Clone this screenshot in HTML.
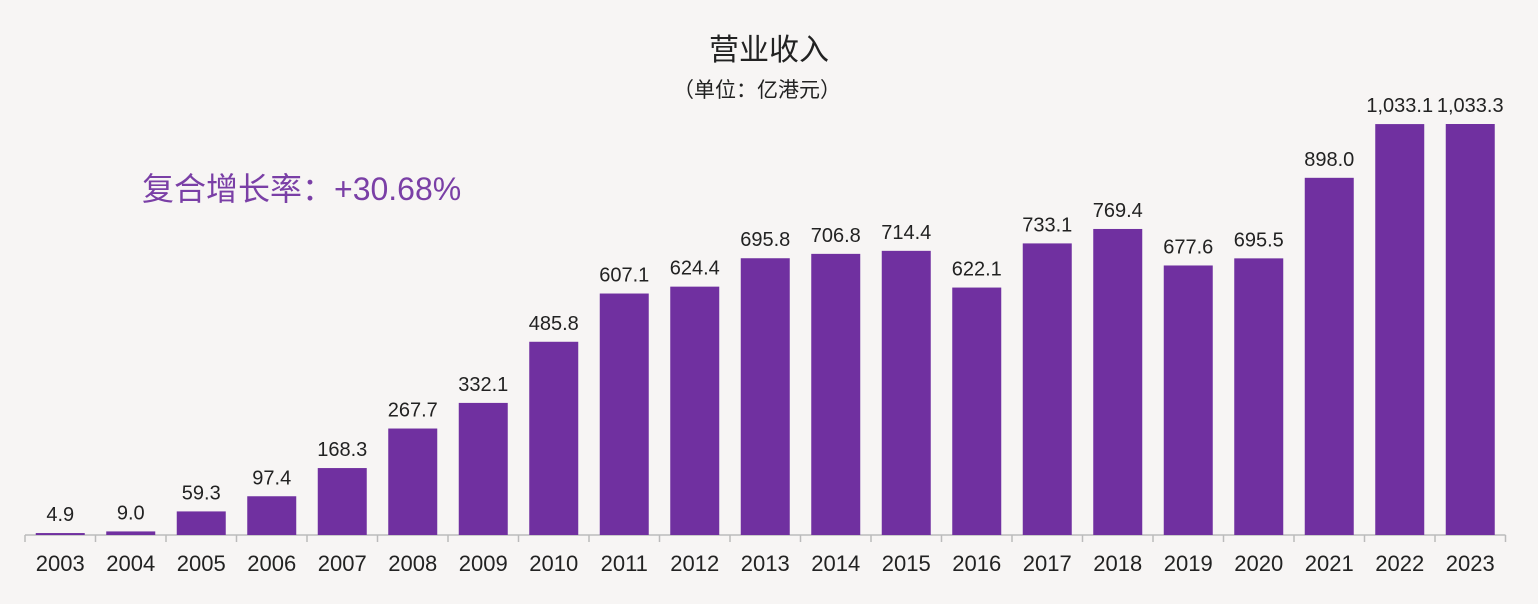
<!DOCTYPE html>
<html><head><meta charset="utf-8"><style>
body{margin:0;background:#f7f5f4;}
svg{display:block;font-family:"Liberation Sans","Noto Sans CJK SC",sans-serif;}
</style></head><body>
<svg width="1538" height="604">
<rect width="1538" height="604" fill="#f7f5f4"/>
<text x="769" y="60" text-anchor="middle" font-size="30" fill="#222">营业收入</text>
<text x="757" y="97" text-anchor="middle" font-size="21" fill="#222">（单位：亿港元）</text>
<text x="142" y="200" font-size="32" fill="#7a3fa6">复合增长率：+30.68%</text>
<g id="plot"></g>
</svg>
<script>
const categories=["2003","2004","2005","2006","2007","2008","2009","2010","2011","2012","2013","2014","2015","2016","2017","2018","2019","2020","2021","2022","2023"];
const revenue=[4.9,9.0,59.3,97.4,168.3,267.7,332.1,485.8,607.1,624.4,695.8,706.8,714.4,622.1,733.1,769.4,677.6,695.5,898.0,1033.1,1033.3];
const valueLabels=["4.9","9.0","59.3","97.4","168.3","267.7","332.1","485.8","607.1","624.4","695.8","706.8","714.4","622.1","733.1","769.4","677.6","695.5","898.0","1,033.1","1,033.3"];
const NS="http://www.w3.org/2000/svg";
const g=document.getElementById('plot');
const x0=25,step=70.5,base=535,k=(535-124)/1033.3,bw=49;
function xs(i){return x0+step*i;}
function ys(v){return base-v*k;}
function mk(t,a){const e=document.createElementNS(NS,t);for(const n in a)e.setAttribute(n,a[n]);g.appendChild(e);return e;}
const ax=mk('line',{x1:x0,x2:xs(categories.length),y1:base,y2:base,stroke:'#bbb','stroke-width':1.5});


for(let i=0;i<=categories.length;i++){
 const t=mk('line',{x1:xs(i),x2:xs(i),y1:base,y2:base+7,stroke:'#bbb','stroke-width':1.5});
 
 
}
categories.forEach((c,i)=>{
 const cx=xs(i)+step/2, y=ys(revenue[i]);
 const r=mk('rect',{x:cx-bw/2,y:y,width:bw,height:base-y,fill:'#7030a0'});
 
 
 const v=mk('text',{x:cx,y:y-12,'text-anchor':'middle','font-size':20,fill:'#222'});
 v.textContent=valueLabels[i];
 
 
 const l=mk('text',{x:cx,y:571,'text-anchor':'middle','font-size':22,fill:'#222'});
 l.textContent=c;
 
 
});
</script>
</body></html>
